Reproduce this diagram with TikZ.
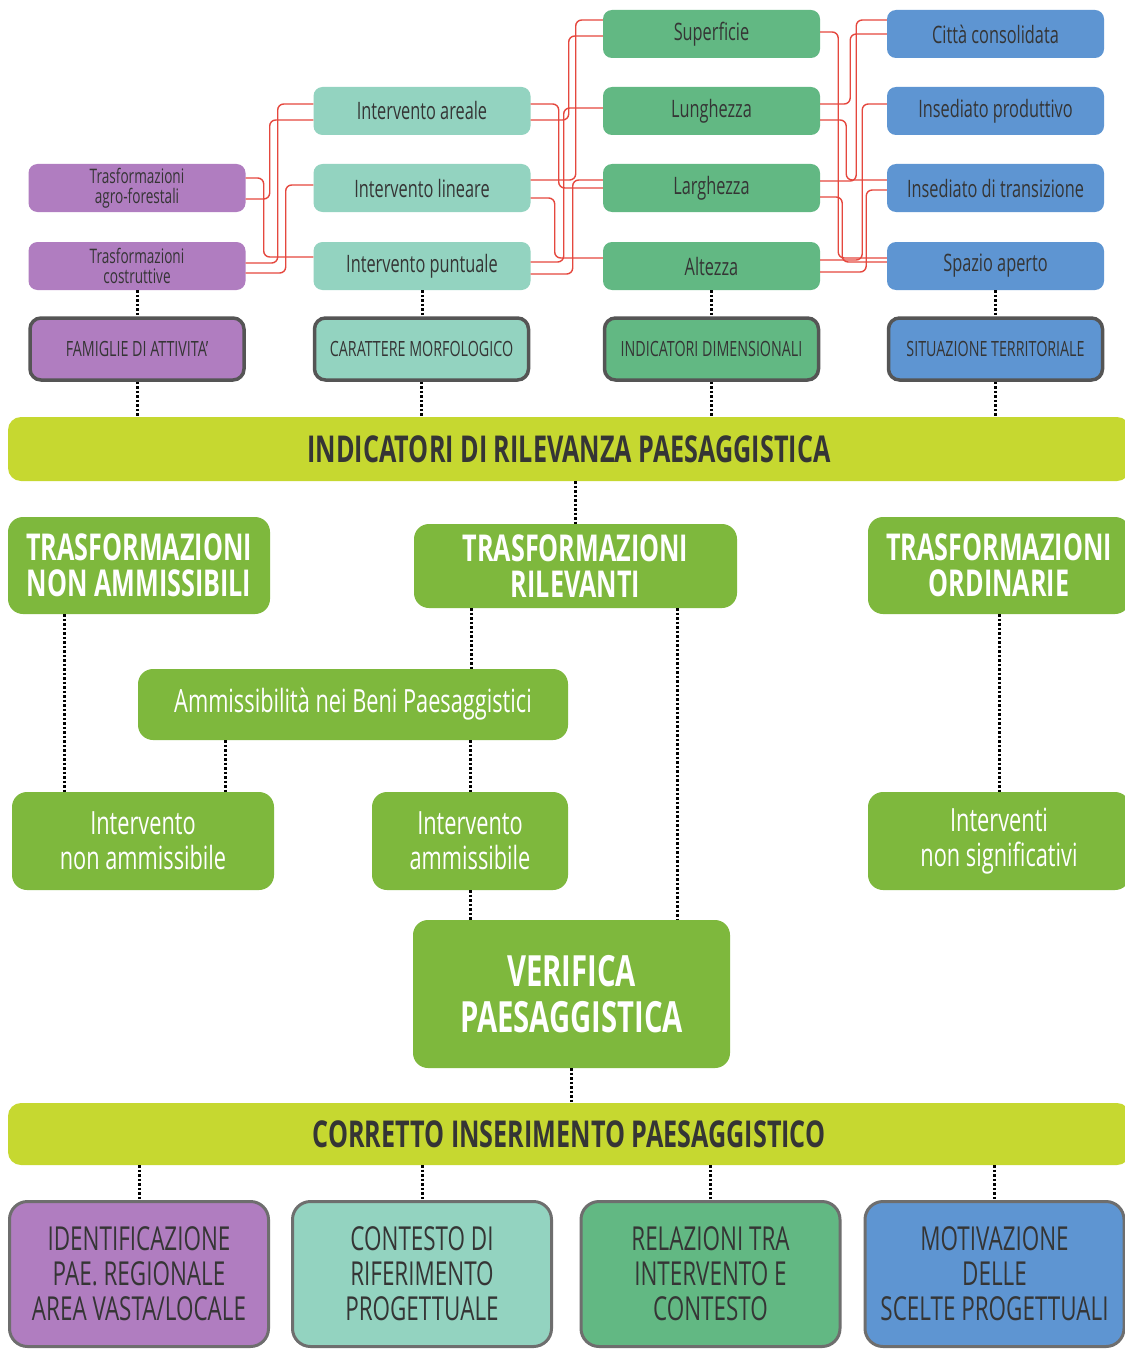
\documentclass[tikz,border=0pt]{standalone}
\usepackage{fontspec}
\setmainfont{Open Sans}[FakeStretch=0.68]
\usetikzlibrary{calc}
\definecolor{cpurple}{HTML}{B07DC0}
\definecolor{cteal}{HTML}{93D3C0}
\definecolor{cmgreen}{HTML}{62B883}
\definecolor{cblue}{HTML}{5E95D2}
\definecolor{clime}{HTML}{C6D830}
\definecolor{cgreen}{HTML}{7EB83D}
\definecolor{cred}{HTML}{E5473E}
\definecolor{ctext}{HTML}{353535}
\definecolor{cborder}{HTML}{555555}
\tikzset{
  small/.style={rounded corners=9pt, minimum width=217pt, minimum height=48pt, inner sep=1pt, align=center, text=ctext, font=\fontsize{24}{24}\selectfont},
  catbox/.style={rounded corners=11pt, draw=cborder, line width=3.5pt, minimum width=214pt, minimum height=62pt, inner sep=2pt, text=ctext, font=\fontsize{21}{21}\selectfont},
  bar/.style={rounded corners=13pt, fill=clime, minimum width=1122pt, text=ctext, font=\bfseries\fontsize{37}{37}\selectfont},
  gbox/.style={rounded corners=15pt, fill=cgreen, text=white, align=center, inner sep=2pt},
  gbig/.style={gbox, font=\bfseries\fontsize{37}{36}\selectfont},
  gmid/.style={gbox, font=\fontsize{32}{35}\selectfont},
  botbox/.style={rounded corners=18pt, draw=cborder!85, line width=3pt, minimum width=259pt, minimum height=145pt, align=center, text=ctext, font=\fontsize{33}{35}\selectfont},
  dots/.style={draw=black, line width=3pt, dash pattern=on 2.5pt off 2pt},
  redl/.style={draw=cred, line width=1.4pt, rounded corners=6pt},
}
\begin{document}
\begin{tikzpicture}[x=1pt, y=-1pt]
\useasboundingbox (0,0) rectangle (1124,1351);
\fill[white] (0,0) rectangle (1124,1351);

% top row
\node[small, fill=cpurple, font=\fontsize{20}{20}\selectfont] (agro) at (137,188) {Trasformazioni\\agro-forestali};
\node[small, fill=cpurple, font=\fontsize{20}{20}\selectfont] (costr) at (137,266) {Trasformazioni\\costruttive};
\node[small, fill=cteal] (areale) at (422,111) {Intervento areale};
\node[small, fill=cteal] (lineare) at (422,188) {Intervento lineare};
\node[small, fill=cteal] (punt) at (422,266) {Intervento puntuale};
\node[small, fill=cmgreen] (sup) at (711.5,34) {Superficie};
\node[small, fill=cmgreen] (lung) at (711.5,111) {Lunghezza};
\node[small, fill=cmgreen] (larg) at (711.5,188) {Larghezza};
\node[small, fill=cmgreen] (alt) at (711.5,266) {Altezza};
\node[small, fill=cblue] (citta) at (995.5,34) {Città consolidata};
\node[small, fill=cblue] (prod) at (995.5,111) {Insediato produttivo};
\node[small, fill=cblue] (trans) at (995.5,188) {Insediato di transizione};
\node[small, fill=cblue] (spazio) at (995.5,266) {Spazio aperto};

% categories
\node[catbox, fill=cpurple] (cat1) at (137,349) {FAMIGLIE DI ATTIVITA'};
\node[catbox, fill=cteal] (cat2) at (421.5,349) {CARATTERE MORFOLOGICO};
\node[catbox, fill=cmgreen] (cat3) at (711.5,349) {INDICATORI DIMENSIONALI};
\node[catbox, fill=cblue] (cat4) at (995.5,349) {SITUAZIONE TERRITORIALE};

% bar 1
\node[bar, minimum height=64pt] (bar1) at (569,449) {INDICATORI DI RILEVANZA PAESAGGISTICA};

% green boxes
\node[gbig, minimum width=262pt, minimum height=97pt] (tna) at (139,565.5) {TRASFORMAZIONI\\NON AMMISSIBILI};
\node[gbig, minimum width=323pt, minimum height=84pt] (tril) at (575.5,566) {TRASFORMAZIONI\\RILEVANTI};
\node[gbig, minimum width=262pt, minimum height=97pt] (tord) at (999,565.5) {TRASFORMAZIONI\\ORDINARIE};
\node[gmid, minimum width=430pt, minimum height=71pt] (amm) at (353,704.5) {Ammissibilità nei Beni Paesaggistici};
\node[gmid, minimum width=262pt, minimum height=98pt] (ina) at (143,841) {Intervento\\non ammissibile};
\node[gmid, minimum width=196pt, minimum height=98pt] (ia) at (470,841) {Intervento\\ammissibile};
\node[gmid, minimum width=262pt, minimum height=98pt] (ins) at (999,841) {Interventi\\non significativi};
\node[gbox, font=\bfseries\fontsize{43}{46}\selectfont, minimum width=317pt, minimum height=148pt] (ver) at (571.5,994) {VERIFICA\\PAESAGGISTICA};

% bar 2
\node[bar, minimum height=62pt] (bar2) at (569,1134) {CORRETTO INSERIMENTO PAESAGGISTICO};

% bottom boxes
\node[botbox, fill=cpurple] (b1) at (139,1274) {IDENTIFICAZIONE\\PAE. REGIONALE\\AREA VASTA/LOCALE};
\node[botbox, fill=cteal] (b2) at (422,1274) {CONTESTO DI\\RIFERIMENTO\\PROGETTUALE};
\node[botbox, fill=cmgreen] (b3) at (710.5,1274) {RELAZIONI TRA\\INTERVENTO E\\CONTESTO};
\node[botbox, fill=cblue] (b4) at (994.5,1274) {MOTIVAZIONE\\DELLE\\SCELTE PROGETTUALI};

% red links gap 1
\draw[redl] ([yshift=10pt]agro.east) -- ++(18pt,0) |- ([yshift=9pt]punt.west);
\draw[redl] ([yshift=-11pt]agro.east) -- ++(24pt,0) |- ([yshift=-9pt]areale.west);
\draw[redl] ([yshift=3pt]costr.east) -- ++(32pt,0) |- ([yshift=7pt]areale.west);
\draw[redl] ([yshift=-7pt]costr.east) -- ++(40pt,0) |- ([yshift=3pt]lineare.west);
% red links gap 2
\draw[redl] ([yshift=7pt]areale.east) -- ++(28pt,0) |- ([yshift=0pt]larg.west);
\draw[redl] ([yshift=-9pt]areale.east) -- ++(38pt,0) |- ([yshift=-2pt]sup.west);
\draw[redl] ([yshift=8pt]lineare.east) -- ++(45pt,0) |- ([yshift=14pt]sup.west);
\draw[redl] ([yshift=-10pt]lineare.east) -- ++(24pt,0) |- ([yshift=8pt]alt.west);
\draw[redl] ([yshift=4pt]punt.east) -- ++(33pt,0) |- ([yshift=3pt]lung.west);
\draw[redl] ([yshift=-8pt]punt.east) -- ++(42pt,0) |- ([yshift=8pt]larg.west);
% red links gap 3
\draw[redl] ([yshift=2pt]sup.east) -- ++(18pt,0) |- ([yshift=8pt]spazio.west);
\draw[redl] ([yshift=7pt]lung.east) -- ++(30pt,0) |- ([yshift=0pt]citta.west);
\draw[redl] ([yshift=-9pt]lung.east) -- ++(26pt,0) |- ([yshift=8pt]trans.west);
\draw[redl] ([yshift=7pt]larg.east) -- ++(36pt,0) |- ([yshift=14pt]citta.west);
\draw[redl] ([yshift=-9pt]larg.east) -- ++(22pt,0) |- ([yshift=4pt]spazio.west);
\draw[redl] ([yshift=6pt]alt.east) -- ++(42pt,0) |- ([yshift=7pt]prod.west);
\draw[redl] ([yshift=-6pt]alt.east) -- ++(46pt,0) |- ([yshift=-2pt]trans.west);

% dotted connectors top
\foreach \a/\b in {costr/cat1, punt/cat2, alt/cat3, spazio/cat4} {
  \draw[dots] (\a.south) -- (\a.south |- \b.north);
}
\foreach \b in {cat1, cat2, cat3, cat4} {
  \draw[dots] (\b.south) -- (\b.south |- bar1.north);
}
\draw[dots] (bar1.south -| tril.north) -- (tril.north);
\draw[dots] ([xshift=-75pt]tna.south) -- ([xshift=-75pt]tna.south |- ina.north);
\draw[dots] ([xshift=-104.5pt]tril.south) -- ([xshift=-104.5pt]tril.south |- amm.north);
\draw[dots] ([xshift=-128pt]amm.south) -- ([xshift=-128pt]amm.south |- ina.north);
\draw[dots] (ia.north |- amm.south) -- (ia.north);
\draw[dots] ([xshift=101.5pt]tril.south) -- ([xshift=101.5pt]tril.south |- ver.north);
\draw[dots] (tord.south) -- (ins.north);
\draw[dots] (ia.south) -- (ia.south |- ver.north);
\draw[dots] (ver.south) -- (ver.south |- bar2.north);
\foreach \b in {b1, b2, b3, b4} {
  \draw[dots] (\b.north |- bar2.south) -- (\b.north);
}
\end{tikzpicture}
\end{document}
